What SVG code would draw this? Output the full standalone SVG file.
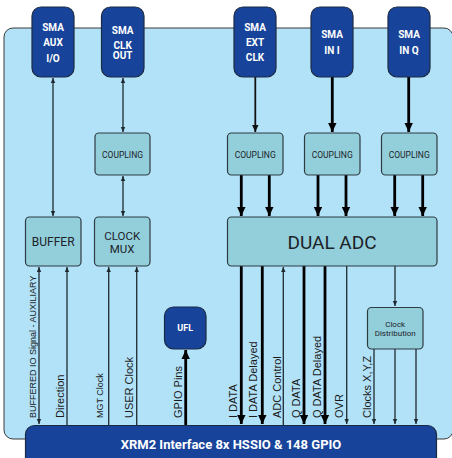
<svg xmlns="http://www.w3.org/2000/svg" width="452" height="458" viewBox="0 0 452 458">
<defs>
<style>
.panel{fill:#b2e2f8;stroke:#3a3a3a;stroke-width:1}
.sma{fill:#17449a;stroke:#1b2a44;stroke-width:1.2}
.blk{fill:#93cfdb;stroke:#2f3b42;stroke-width:1.2}
.wt{fill:#ffffff;font-family:Roboto,"Liberation Sans",sans-serif;font-weight:700;text-anchor:middle}
.bt{fill:#1c2328;font-family:Roboto,"Liberation Sans",sans-serif;text-anchor:middle}
.lbl{fill:#1a1a1a;font-family:"Liberation Sans",Arial,sans-serif;font-size:11px}
.sl{fill:#1a1a1a;font-family:"Liberation Sans",Arial,sans-serif;font-size:9px}
.thin{stroke:#1f2a30;stroke-width:1.3;fill:none}
.med{stroke:#111;stroke-width:1.8;fill:none}
.thick{stroke:#000;stroke-width:2.8;fill:none}
</style>
<marker id="as" markerUnits="userSpaceOnUse" markerWidth="6" markerHeight="6" viewBox="0 0 6 6" refX="5" refY="3" orient="auto-start-reverse"><path d="M0,0.8 L5,3 L0,5.2 Z" fill="#1f2a30"/></marker>
<marker id="am" markerUnits="userSpaceOnUse" markerWidth="8" markerHeight="8" viewBox="0 0 8 8" refX="7" refY="4" orient="auto-start-reverse"><path d="M0,0.8 L7,4 L0,7.2 Z" fill="#111"/></marker>
<marker id="al" markerUnits="userSpaceOnUse" markerWidth="10" markerHeight="10" viewBox="0 0 10 10" refX="9" refY="5" orient="auto-start-reverse"><path d="M0,0.8 L9,5 L0,9.2 Z" fill="#000"/></marker>
</defs>

<rect class="panel" x="4" y="28" width="449" height="411" rx="9"/>

<g id="connectors">
<line class="thin" x1="53" y1="78" x2="53" y2="216" marker-start="url(#as)" marker-end="url(#as)"/>
<line class="thin" x1="123" y1="78" x2="123" y2="132" marker-start="url(#as)" marker-end="url(#as)"/>
<line class="thin" x1="123" y1="176" x2="123" y2="216" marker-start="url(#as)" marker-end="url(#as)"/>
<line class="thin" x1="39" y1="267" x2="39" y2="424" marker-start="url(#as)" marker-end="url(#as)"/>
<line class="thin" x1="67" y1="425" x2="67" y2="267" marker-end="url(#as)"/>
<line class="thin" x1="108.7" y1="425" x2="108.7" y2="267" marker-end="url(#as)"/>
<line class="thin" x1="136.7" y1="425" x2="136.7" y2="267" marker-end="url(#as)"/>
<line class="thick" x1="185.7" y1="425" x2="185.7" y2="350" marker-end="url(#al)"/>
<line class="med" x1="255.3" y1="77" x2="255.3" y2="132" marker-end="url(#am)"/>
<line class="thick" x1="332.3" y1="77" x2="332.3" y2="132" marker-end="url(#al)"/>
<line class="thick" x1="408.7" y1="77" x2="408.7" y2="132" marker-end="url(#al)"/>
<line class="thick" x1="241.3" y1="175" x2="241.3" y2="216" marker-end="url(#al)"/>
<line class="thick" x1="269.3" y1="175" x2="269.3" y2="216" marker-end="url(#al)"/>
<line class="thick" x1="318" y1="175" x2="318" y2="216" marker-end="url(#al)"/>
<line class="thick" x1="346" y1="175" x2="346" y2="216" marker-end="url(#al)"/>
<line class="thick" x1="394.7" y1="175" x2="394.7" y2="216" marker-end="url(#al)"/>
<line class="thick" x1="422.7" y1="175" x2="422.7" y2="216" marker-end="url(#al)"/>
<line class="thick" x1="241.3" y1="266" x2="241.3" y2="424" marker-end="url(#al)"/>
<line class="thick" x1="262.3" y1="266" x2="262.3" y2="424" marker-end="url(#al)"/>
<line class="thin" x1="283.3" y1="425" x2="283.3" y2="267" marker-end="url(#as)"/>
<line class="thick" x1="304" y1="266" x2="304" y2="424" marker-end="url(#al)"/>
<line class="thick" x1="325" y1="266" x2="325" y2="424" marker-end="url(#al)"/>
<line class="thin" x1="346.7" y1="266" x2="346.7" y2="424" marker-end="url(#as)"/>
<line class="thin" x1="395" y1="266" x2="395" y2="306" marker-end="url(#as)"/>
<line class="thin" x1="374" y1="349" x2="374" y2="424" marker-end="url(#as)"/>
<line class="thin" x1="395" y1="349" x2="395" y2="424" marker-end="url(#as)"/>
<line class="thin" x1="416" y1="349" x2="416" y2="424" marker-end="url(#as)"/>
</g>

<g id="sma-aux">
<rect class="sma" x="32" y="7" width="42" height="70" rx="9"/>
<text class="wt" font-size="10" x="53" y="30.6">SMA</text>
<text class="wt" font-size="10" x="53" y="46.3">AUX</text>
<text class="wt" font-size="10" x="53" y="61.5">I/O</text>
</g>
<g id="sma-clkout">
<rect class="sma" x="101.5" y="7" width="42.5" height="70" rx="9"/>
<text class="wt" font-size="10" x="122.7" y="33.8">SMA</text>
<text class="wt" font-size="10" x="122.7" y="48.6">CLK</text>
<text class="wt" font-size="10" x="122.7" y="58.6">OUT</text>
</g>
<g id="sma-extclk">
<rect class="sma" x="234" y="7" width="42" height="70" rx="9"/>
<text class="wt" font-size="10" x="255" y="30.8">SMA</text>
<text class="wt" font-size="10" x="255" y="46.2">EXT</text>
<text class="wt" font-size="10" x="255" y="60.8">CLK</text>
</g>
<g id="sma-ini">
<rect class="sma" x="311" y="7" width="42" height="70" rx="9"/>
<text class="wt" font-size="10" x="332" y="38.2">SMA</text>
<text class="wt" font-size="10" x="332" y="53.5">IN I</text>
</g>
<g id="sma-inq">
<rect class="sma" x="388" y="7" width="42" height="70" rx="9"/>
<text class="wt" font-size="10" x="409" y="38.2">SMA</text>
<text class="wt" font-size="10" x="409" y="53.5">IN Q</text>
</g>

<g id="coupling-clk">
<rect class="blk" x="95" y="133" width="55" height="42" rx="4"/>
<text class="bt" font-size="8.5" x="122.5" y="157.5">COUPLING</text>
</g>
<g id="coupling-ext">
<rect class="blk" x="227.5" y="133" width="55.5" height="42" rx="4"/>
<text class="bt" font-size="8.5" x="255.2" y="157.5">COUPLING</text>
</g>
<g id="coupling-i">
<rect class="blk" x="304.5" y="133" width="55.5" height="42" rx="4"/>
<text class="bt" font-size="8.5" x="332.2" y="157.5">COUPLING</text>
</g>
<g id="coupling-q">
<rect class="blk" x="381.5" y="133" width="55.5" height="42" rx="4"/>
<text class="bt" font-size="8.5" x="409.2" y="157.5">COUPLING</text>
</g>

<g id="buffer">
<rect class="blk" x="25.5" y="217" width="55.5" height="49" rx="4"/>
<text class="bt" font-size="12" x="53.2" y="246">BUFFER</text>
</g>
<g id="clock-mux">
<rect class="blk" x="94.5" y="217" width="55.5" height="49" rx="4"/>
<text class="bt" font-size="11.5" x="122.2" y="239.6">CLOCK</text>
<text class="bt" font-size="11.5" x="122.2" y="253">MUX</text>
</g>
<g id="dual-adc">
<rect class="blk" x="227.5" y="217" width="209.5" height="49" rx="4"/>
<text class="bt" font-size="19" x="332" y="248.5">DUAL ADC</text>
</g>
<g id="ufl">
<rect class="sma" x="164.5" y="307" width="41.5" height="42" rx="9"/>
<text class="wt" font-size="9" x="185.2" y="331.3">UFL</text>
</g>
<g id="clock-dist">
<rect class="blk" x="367.5" y="307.5" width="55.5" height="41.5" rx="4"/>
<text class="bt" font-size="8" x="395.2" y="327">Clock</text>
<text class="bt" font-size="8" x="395.2" y="336">Distribution</text>
</g>
<g id="xrm2">
<rect class="sma" x="25.5" y="425.5" width="411" height="45" rx="9"/>
<text class="wt" font-size="13" font-weight="500" x="231" y="448.8">XRM2 Interface 8x HSSIO &amp; 148 GPIO</text>
</g>

<g id="labels">
<text class="sl" transform="translate(35.6,418) rotate(-90)">BUFFERED IO Signal - AUXILIARY</text>
<text class="lbl" transform="translate(64,418) rotate(-90)">Direction</text>
<text class="sl" transform="translate(103.3,418) rotate(-90)">MGT Clock</text>
<text class="lbl" transform="translate(133.3,418) rotate(-90)">USER Clock</text>
<text class="lbl" transform="translate(182.3,418) rotate(-90)">GPIO Pins</text>
<text class="lbl" transform="translate(237.3,418) rotate(-90)">I DATA</text>
<text class="lbl" transform="translate(257.3,418) rotate(-90)">I DATA Delayed</text>
<text class="lbl" transform="translate(280.6,418) rotate(-90)">ADC Control</text>
<text class="lbl" transform="translate(300,418) rotate(-90)">Q DATA</text>
<text class="lbl" transform="translate(320.6,418) rotate(-90)">Q DATA Delayed</text>
<text class="lbl" transform="translate(342.6,418) rotate(-90)">OVR</text>
<text class="lbl" transform="translate(370.6,418) rotate(-90)">Clocks X,Y,Z</text>
</g>
</svg>
